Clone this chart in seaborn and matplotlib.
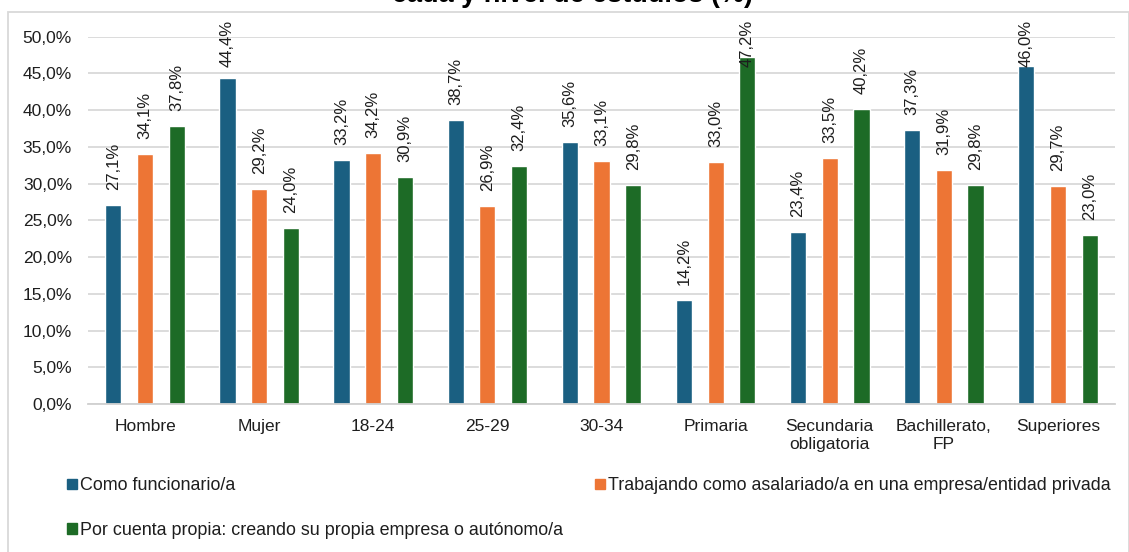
import numpy as np
import pandas as pd
import matplotlib
matplotlib.use("Agg")
import matplotlib.pyplot as plt
from matplotlib.patches import Patch, Rectangle
import seaborn as sns

# ── datos ──
categorias = ["Hombre", "Mujer", "18-24", "25-29", "30-34", "Primaria",
              "Secundaria\nobligatoria", "Bachillerato,\nFP", "Superiores"]
series = ["Como funcionario/a",
          "Trabajando como asalariado/a en una empresa/entidad privada",
          "Por cuenta propia: creando su propia empresa o autónomo/a"]
funcionario = [27.1, 44.4, 33.2, 38.7, 35.6, 14.2, 23.4, 37.3, 46.0]
asalariado  = [34.1, 29.2, 34.2, 26.9, 33.1, 33.0, 33.5, 31.9, 29.7]
cuenta_prop = [37.8, 24.0, 30.9, 32.4, 29.8, 47.2, 40.2, 29.8, 23.0]
colores = ["#1a5f81", "#ed7535", "#1d6b26"]
y_ticks = [0, 5, 10, 15, 20, 25, 30, 35, 40, 45, 50]
titulo = "cada y nivel de estudios (%)"

valores = [funcionario, asalariado, cuenta_prop]
df = pd.DataFrame({
    "categoria": categorias * 3,
    "serie": np.repeat(series, len(categorias)),
    "valor": np.concatenate(valores),
})

sns.set_theme(style="white")
plt.rcParams["font.family"] = ["Liberation Sans", "DejaVu Sans"]
TXT = "#1e1e1e"

W, H = 1129, 552
fig = plt.figure(figsize=(W / 100, H / 100), dpi=100)
ax = fig.add_axes([88 / W, 1 - 404 / H, (1115 - 88) / W, (404 - 36.7) / H])

sns.barplot(data=df, x="categoria", y="valor", hue="serie",
            palette=colores, width=0.834, gap=0.49, ax=ax,
            legend=False, saturation=1, errorbar=None)

ax.set_ylim(0, 50)
ax.set_yticks(y_ticks)
ax.set_yticklabels([f"{t:.1f}".replace(".", ",") + "%" for t in y_ticks])
ax.set_xlabel("")
ax.set_ylabel("")
ax.grid(axis="y", color="#d9d9d9", lw=1.3)
ax.set_axisbelow(True)
for s in ["top", "right", "left"]:
    ax.spines[s].set_visible(False)
ax.spines["bottom"].set_color("#d0d0d0")
ax.spines["bottom"].set_linewidth(1.3)
ax.tick_params(axis="both", length=0, labelsize=12.5, colors=TXT)
ax.tick_params(axis="y", pad=11.5)
ax.tick_params(axis="x", pad=11)

# etiquetas de datos
etiquetas = []
for cont, vals in zip(ax.containers, valores):
    for bar, v in zip(cont, vals):
        t = ax.annotate(f"{v:.1f}".replace(".", ",") + "%",
                        (bar.get_x() + bar.get_width() / 2, v),
                        xytext=(0, 10.8), textcoords="offset points",
                        rotation=90, ha="center", va="bottom",
                        fontsize=12, color=TXT, annotation_clip=False)
        etiquetas.append(t)

# Excel mantiene las etiquetas dentro del área del gráfico
fig.canvas.draw()
r = fig.canvas.get_renderer()
limite = H - 19.5
for t in etiquetas:
    bb = t.get_window_extent(r)
    if bb.y1 > limite:
        dx, dy = t.xyann
        t.xyann = (dx, dy - (bb.y1 - limite) * 72 / 100)

# leyenda
handles = [Patch(color=c, label=s) for c, s in zip(colores, series)]
orden = [handles[0], handles[2], handles[1]]
fig.legend(handles=orden, ncol=2, loc="upper left",
           bbox_to_anchor=(60 / W, 1 - 470 / H), frameon=False,
           fontsize=12.85, handlelength=0.53, handleheight=0.53,
           handletextpad=0.2, columnspacing=1.8, labelspacing=1.55,
           labelcolor=TXT, borderaxespad=0)

# marco del gráfico
fig.patches.append(Rectangle((7.5 / W, -0.1), (1128.5 - 7.5) / W, 1.1 - 12 / H,
                             transform=fig.transFigure, fill=False,
                             edgecolor="#d9d9d9", lw=1.3))

# título (recortado por el borde superior, como en el original)
fig.text(573 / W, 1 - 2 / H, titulo, ha="center", va="baseline",
         fontsize=19.5, fontweight="bold", color="#000000")

fig.savefig("out.png", dpi=100)
